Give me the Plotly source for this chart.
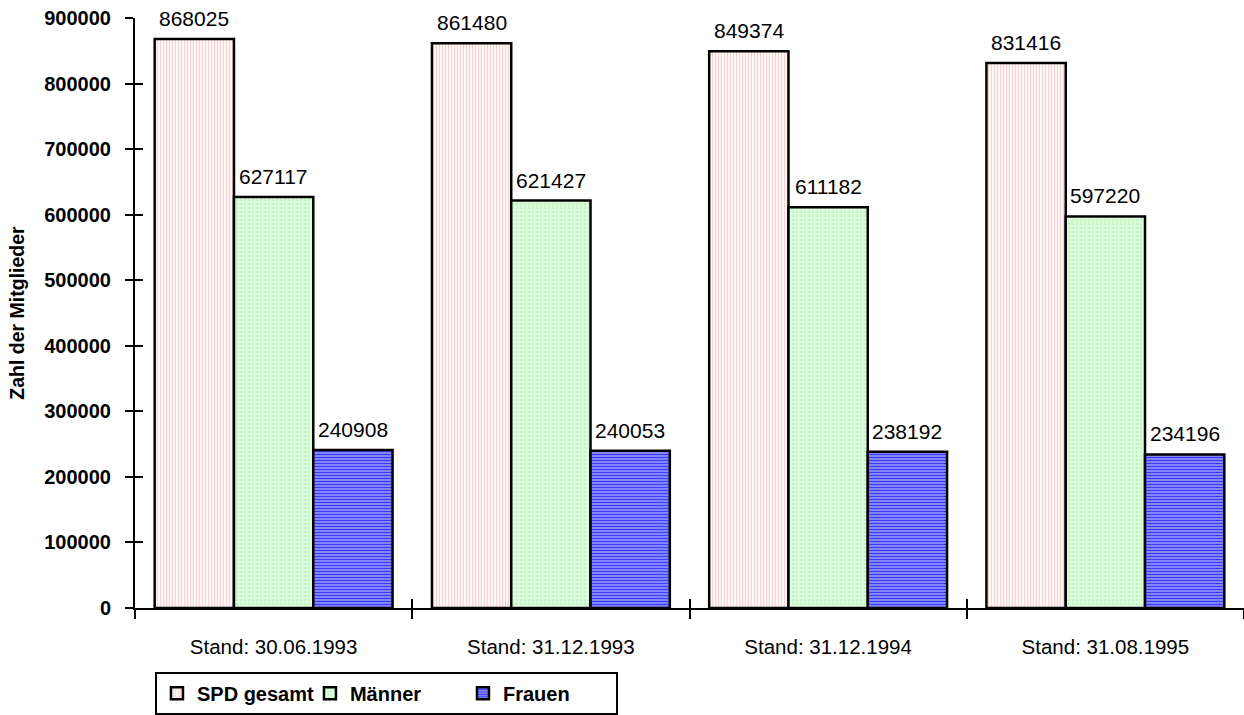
import plotly.graph_objects as go

# Mitgliederzahlen der SPD nach Stichtag
stichtage = ["Stand: 30.06.1993", "Stand: 31.12.1993", "Stand: 31.12.1994", "Stand: 31.08.1995"]
gesamt = [868025, 861480, 849374, 831416]
maenner = [627117, 621427, 611182, 597220]
frauen = [240908, 240053, 238192, 234196]

y_ticks = [0, 100000, 200000, 300000, 400000, 500000, 600000, 700000, 800000, 900000]

FONT = "Liberation Sans, Arial, sans-serif"
BARGAP = 0.142

series = [
    ("SPD gesamt", gesamt, dict(shape="|", bgcolor="#fff7f7", fgcolor="#ffd2d2", size=3, solidity=0.34)),
    ("Männer", maenner, dict(shape=".", bgcolor="#dcffdc", fgcolor="#c4f0c4", size=4, solidity=0.3)),
    ("Frauen", frauen, dict(shape="-", bgcolor="#9c9cff", fgcolor="#3a3aff", size=3, solidity=0.5)),
]

fig = go.Figure()
for name, vals, pat in series:
    fig.add_trace(go.Bar(
        name=name,
        x=stichtage,
        y=vals,
        marker=dict(
            color=pat["bgcolor"],
            line=dict(color="black", width=2.5),
            pattern=dict(fillmode="replace", **pat),
        ),
    ))

# value labels above each bar, placed at the bar centres within each group
bar_w = (1 - BARGAP) / len(series)
for k, (name, vals, _) in enumerate(series):
    offset = (k - (len(series) - 1) / 2) * bar_w
    for i, v in enumerate(vals):
        fig.add_annotation(
            x=i + offset, y=v, xref="x", yref="y",
            text=str(v), showarrow=False,
            xanchor="center", yanchor="bottom", yshift=7,
            font=dict(family=FONT, size=21, color="black"),
        )

fig.update_layout(
    width=1244,
    height=715,
    margin=dict(l=135, r=0, t=18, b=105),
    paper_bgcolor="white",
    plot_bgcolor="white",
    barmode="group",
    bargap=BARGAP,
    bargroupgap=0,
    font=dict(family=FONT, size=20, color="black"),
    legend=dict(
        orientation="h",
        x=0.018, xanchor="left",
        y=-0.108, yanchor="top",
        bordercolor="black",
        borderwidth=2,
        bgcolor="white",
        font=dict(family=FONT, size=20, color="black", weight="bold"),
        entrywidth=108,
        itemwidth=30,
        tracegroupgap=0,
    ),
    xaxis=dict(
        type="category",
        showline=True, linecolor="black", linewidth=2,
        ticks="outside", ticklen=9, tickwidth=2, tickcolor="black",
        tickson="boundaries",
        ticklabelstandoff=19,
        tickfont=dict(family=FONT, size=20.5),
        showgrid=False, zeroline=False,
    ),
    yaxis=dict(
        range=[0, 900000],
        tickvals=y_ticks,
        ticktext=[str(v) for v in y_ticks],
        showline=True, linecolor="black", linewidth=2,
        ticks="outside", ticklen=8, tickwidth=2, tickcolor="black",
        ticklabelstandoff=10,
        tickfont=dict(family=FONT, size=20, weight="bold"),
        showgrid=False, zeroline=False,
        title=dict(text="Zahl der Mitglieder", font=dict(family=FONT, size=19.5, weight="bold"), standoff=14),
    ),
    # second set of axes: inward half of the crossing tick marks
    xaxis2=dict(
        overlaying="x", anchor="y", range=[-0.5, 3.5],
        tickvals=[-0.5, 0.5, 1.5, 2.5, 3.5],
        ticks="inside", ticklen=9, tickwidth=2, tickcolor="black",
        showticklabels=False, showline=False, showgrid=False, zeroline=False,
    ),
    yaxis2=dict(
        overlaying="y", anchor="x", range=[0, 900000],
        tickvals=y_ticks,
        ticks="inside", ticklen=8, tickwidth=2, tickcolor="black",
        showticklabels=False, showline=False, showgrid=False, zeroline=False,
    ),
)

# invisible helper trace so the overlaying axes get drawn
fig.add_trace(go.Scatter(x=[None], y=[None], xaxis="x2", yaxis="y2", showlegend=False, hoverinfo="skip"))

fig.write_html("out.html")
